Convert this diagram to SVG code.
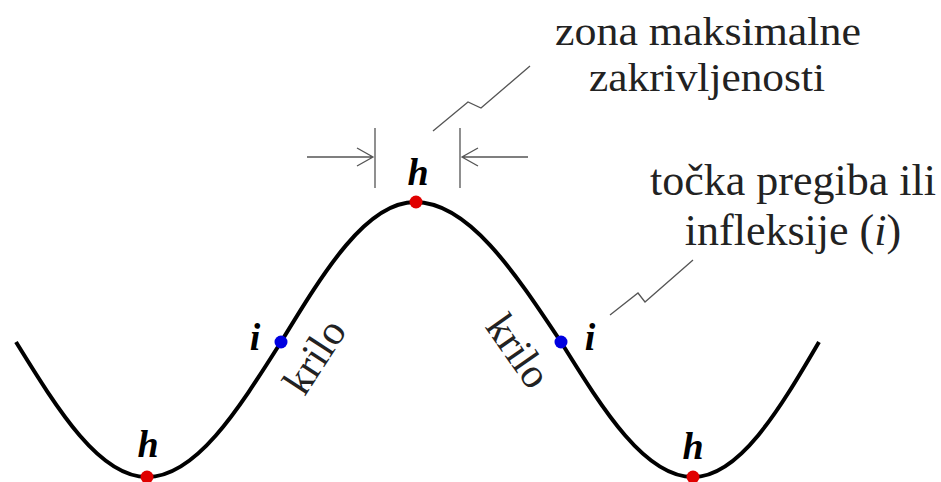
<svg xmlns="http://www.w3.org/2000/svg" width="941" height="482" viewBox="0 0 941 482">
<style>
.lbl{font-family:"Liberation Serif","Times New Roman",serif;font-size:44px;fill:#222;text-anchor:middle}
.sym{font-family:"Liberation Serif","Times New Roman",serif;font-size:38px;font-weight:bold;font-style:italic;fill:#000;text-anchor:middle}
.thin{fill:none;stroke:#555;stroke-width:1.3}
.curve{fill:none;stroke:#000;stroke-width:4;stroke-linecap:butt}
.hp{fill:#e00000}
.ip{fill:#0000e0}
</style>
<rect width="941" height="482" fill="#fff"/>
<g id="fold">
<path class="curve" d="M16,342 C58.7,411.2 99.6,477 147,477 C195.5,477 237.3,411.2 281,342 C324.7,270.3 366.5,202 415,202 C467.8,202 513.4,270.3 561,342 C604,411.2 645.2,477 693,477 C739,477 778.6,411.2 819,342"/>
</g>
<g id="connectors">
<path class="thin" d="M375,128 V188 M460,128 V188"/>
<path class="thin" d="M307,157 H373 M357,148 L373,157 L357,166"/>
<path class="thin" d="M528,157 H462 M478,148 L462,157 L478,166"/>
<path class="thin" d="M433,131 L468,102 L481,108 L530,66"/>
<path class="thin" d="M610,315 L638,293 L645,302 L693,260"/>
</g>
<g id="hinge-top"><text class="sym" x="418" y="185">h</text><circle class="hp" cx="416" cy="202" r="6.5"/></g>
<g id="hinge-left"><text class="sym" x="148" y="457">h</text><circle class="hp" cx="147" cy="477" r="6.5"/></g>
<g id="hinge-right"><text class="sym" x="693" y="459">h</text><circle class="hp" cx="693" cy="477" r="6.5"/></g>
<g id="infl-left"><text class="sym" x="255" y="350">i</text><circle class="ip" cx="281" cy="342" r="6.5"/></g>
<g id="infl-right"><text class="sym" x="590" y="350">i</text><circle class="ip" cx="561" cy="342" r="6.5"/></g>
<g id="limb-left"><text class="lbl" transform="translate(326,364) rotate(-57)" x="0" y="0" style="font-size:42px">krilo</text></g>
<g id="limb-right"><text class="lbl" transform="translate(507,359) rotate(55)" x="0" y="0" style="font-size:42px">krilo</text></g>
<g id="zone-label"><text class="lbl" x="708" y="45" style="font-size:40px" textLength="306" lengthAdjust="spacingAndGlyphs">zona maksimalne</text><text class="lbl" x="707" y="91" style="font-size:40px" textLength="236" lengthAdjust="spacingAndGlyphs">zakrivljenosti</text></g>
<g id="infl-label"><text class="lbl" x="793" y="195">točka pregiba ili</text><text class="lbl" x="793" y="245">infleksije (<tspan font-style="italic">i</tspan>)</text></g>
</svg>
